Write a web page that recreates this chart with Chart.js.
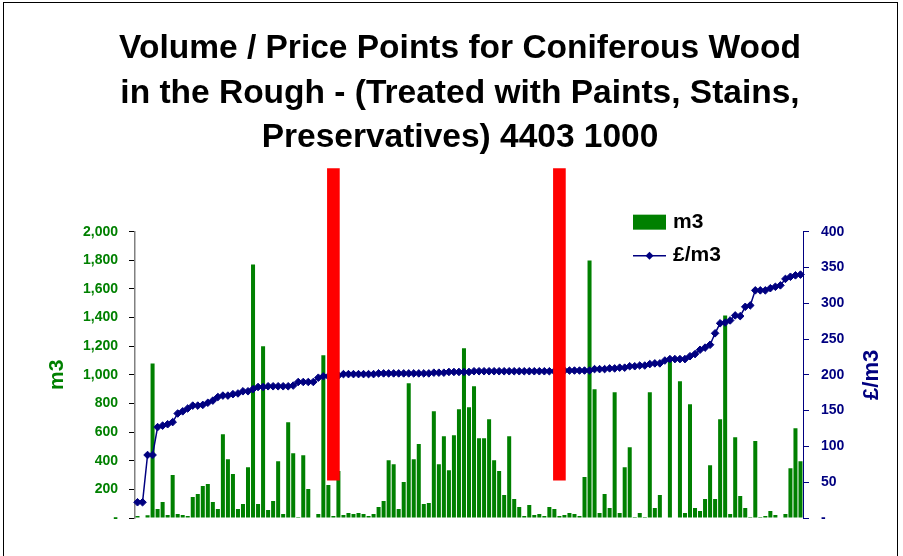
<!DOCTYPE html>
<html>
<head>
<meta charset="utf-8">
<script src="https://cdn.jsdelivr.net/npm/chart.js@4.4.1/dist/chart.umd.min.js"></script>
<style>
  body { margin: 0; background: #fff; }
  #wrap { position: relative; width: 903px; height: 556px; overflow: hidden; }
  #frame { position: absolute; left: 3px; top: 2px; width: 893px; height: 600px; border: 1px solid #000; pointer-events: none; }
</style>
</head>
<body>
<div id="wrap">
  <canvas id="chart_volume_price" width="903" height="556"></canvas>
  <div id="frame"></div>
</div>
<script>
var titleLines = ['Volume / Price Points for Coniferous Wood', 'in the Rough - (Treated with Paints, Stains,', 'Preservatives) 4403 1000'];

// m3 per item
var volume = [14, 0, 20, 1080, 63, 111, 21, 300, 28, 21, 14, 146, 167, 223, 237, 111, 63, 585, 411, 307,
  63, 98, 355, 1770, 98, 1199, 56, 118, 397, 28, 669, 453, 7, 439, 202, 0, 28, 1136, 230, 14,
  328, 21, 35, 28, 35, 28, 14, 28, 77, 118, 404, 376, 63, 251, 941, 411, 516, 98, 105, 746,
  376, 571, 334, 578, 760, 1185, 773, 920, 557, 557, 690, 404, 328, 160, 571, 132, 77, 14, 91, 21,
  28, 14, 77, 63, 14, 21, 35, 28, 14, 286, 1798, 899, 35, 167, 70, 878, 35, 355, 495, 7,
  35, 7, 878, 70, 160, 0, 1101, 0, 955, 35, 794, 70, 49, 132, 369, 132, 690, 1415, 28, 564,
  153, 70, 7, 537, 7, 14, 49, 21, 0, 28, 348, 627, 397];

// £/m3 per item
var price = [22, 22, 88, 88, 127, 129, 131, 134, 146, 149, 153, 157, 157, 158, 161, 164, 169, 171, 171, 173,
  174, 177, 177, 180, 183, 183, 184, 184, 184, 184, 184, 185, 190, 190, 190, 190, 196, 198, 198, 199,
  199, 201, 201, 201, 201, 201, 201, 201, 202, 202, 202, 202, 202, 202, 202, 202, 202, 202, 202, 203,
  203, 203, 204, 204, 204, 204, 204, 205, 205, 205, 205, 205, 205, 205, 205, 205, 205, 205, 205, 205,
  205, 205, 205, 205, 205, 206, 206, 206, 206, 206, 206, 208, 208, 208, 209, 209, 210, 210, 212, 212,
  213, 213, 215, 216, 216, 220, 222, 222, 222, 222, 226, 229, 235, 238, 242, 258, 272, 273, 276, 283,
  282, 295, 297, 318, 318, 318, 321, 323, 325, 334, 337, 339, 340];

var categories = volume.map(function(v, i) { return String(i + 1); });

// red marker bands (item index, low / high in m3 units)
var markerItems = [39, 84];
var markerRange = [265, 2440];

var volTicks = [0, 200, 400, 600, 800, 1000, 1200, 1400, 1600, 1800, 2000];
var priceTicks = [0, 50, 100, 150, 200, 250, 300, 350, 400];

var green = '#008000';
var navy = '#000080';
var fontFamily = "'Liberation Sans', Arial, sans-serif";

var markerData = categories.map(function(c, i) {
  return markerItems.indexOf(i) >= 0 ? markerRange.slice() : null;
});

var overlay = {
  id: 'overlay',
  afterDraw: function(chart) {
    var c = chart.ctx, area = chart.chartArea;
    var midY = (area.top + area.bottom) / 2;
    c.save();
    // legend
    var lx = area.left + 498, ly = area.top - 9;
    c.fillStyle = green;
    c.fillRect(lx, ly - 8, 33, 15);
    c.font = 'bold 21px ' + fontFamily;
    c.fillStyle = '#000';
    c.textBaseline = 'middle';
    c.textAlign = 'left';
    c.fillText('m3', lx + 40, ly);
    var ly2 = ly + 33;
    c.strokeStyle = navy;
    c.lineWidth = 1.5;
    c.beginPath(); c.moveTo(lx, ly2); c.lineTo(lx + 33, ly2); c.stroke();
    c.fillStyle = navy;
    c.beginPath();
    c.moveTo(lx + 16.5, ly2 - 4); c.lineTo(lx + 20.5, ly2); c.lineTo(lx + 16.5, ly2 + 4); c.lineTo(lx + 12.5, ly2);
    c.closePath(); c.fill();
    c.fillStyle = '#000';
    c.fillText('£/m3', lx + 40, ly2);

    // axis titles, both reading upwards
    c.textAlign = 'center';
    c.save();
    c.translate(area.left - 78, midY);
    c.rotate(-Math.PI / 2);
    c.fillStyle = green;
    c.font = 'bold 21px ' + fontFamily;
    c.fillText('m3', 0, 0);
    c.restore();
    c.translate(area.right + 69, midY);
    c.rotate(-Math.PI / 2);
    c.fillStyle = navy;
    c.font = 'bold 22px ' + fontFamily;
    c.fillText('£/m3', 0, 0);
    c.restore();
  }
};

var ctx = document.getElementById('chart_volume_price');
var chart = new Chart(ctx, {
  plugins: [overlay],
  data: {
    labels: categories,
    datasets: [
      {
        type: 'bar',
        label: 'markers',
        data: markerData,
        backgroundColor: '#ff0000',
        barThickness: 12,
        clip: false,
        yAxisID: 'y',
        order: 0
      },
      {
        type: 'line',
        label: '£/m3',
        data: price,
        borderColor: navy,
        backgroundColor: navy,
        borderWidth: 1.5,
        pointStyle: 'rectRot',
        pointRadius: 3.8,
        pointBorderWidth: 1,
        tension: 0,
        yAxisID: 'y1',
        order: 1
      },
      {
        type: 'bar',
        label: 'm3',
        data: volume,
        backgroundColor: green,
        barPercentage: 0.8,
        categoryPercentage: 1,
        yAxisID: 'y',
        order: 2
      }
    ]
  },
  options: {
    responsive: false,
    animation: false,
    layout: { padding: { left: 17, right: 0, bottom: 38, top: 0 } },
    datasets: { bar: { grouped: false } },
    plugins: {
      legend: { display: false },
      tooltip: { enabled: false },
      title: {
        display: true,
        text: titleLines,
        color: '#000',
        font: { family: fontFamily, size: 33.5, weight: 'bold', lineHeight: 1.32 },
        padding: { top: 27, bottom: 72 }
      }
    },
    scales: {
      x: { display: false, offset: true },
      y: {
        position: 'left',
        min: 0, max: 2000,
        afterBuildTicks: function(s) { s.ticks = volTicks.map(function(v) { return { value: v }; }); },
        afterFit: function(s) { s.width = 118; },
        ticks: {
          color: green,
          font: { family: fontFamily, size: 14, weight: 'bold' },
          padding: 11,
          callback: function(v) { return v === 0 ? '-' : v.toLocaleString('en-US'); }
        },
        grid: { drawOnChartArea: false, tickLength: 6, color: '#000', lineWidth: 1 },
        border: { display: true, color: '#808080', width: 1.5 }
      },
      y1: {
        position: 'right',
        min: 0, max: 400,
        afterBuildTicks: function(s) { s.ticks = priceTicks.map(function(v) { return { value: v }; }); },
        afterFit: function(s) { s.width = 100; },
        ticks: {
          color: navy,
          font: { family: fontFamily, size: 14, weight: 'bold' },
          padding: 12,
          callback: function(v) { return v === 0 ? '-' : v; }
        },
        grid: { drawOnChartArea: false, tickLength: 6, color: navy, lineWidth: 1 },
        border: { display: true, color: navy, width: 1 }
      }
    }
  }
});
</script>
</body>
</html>
